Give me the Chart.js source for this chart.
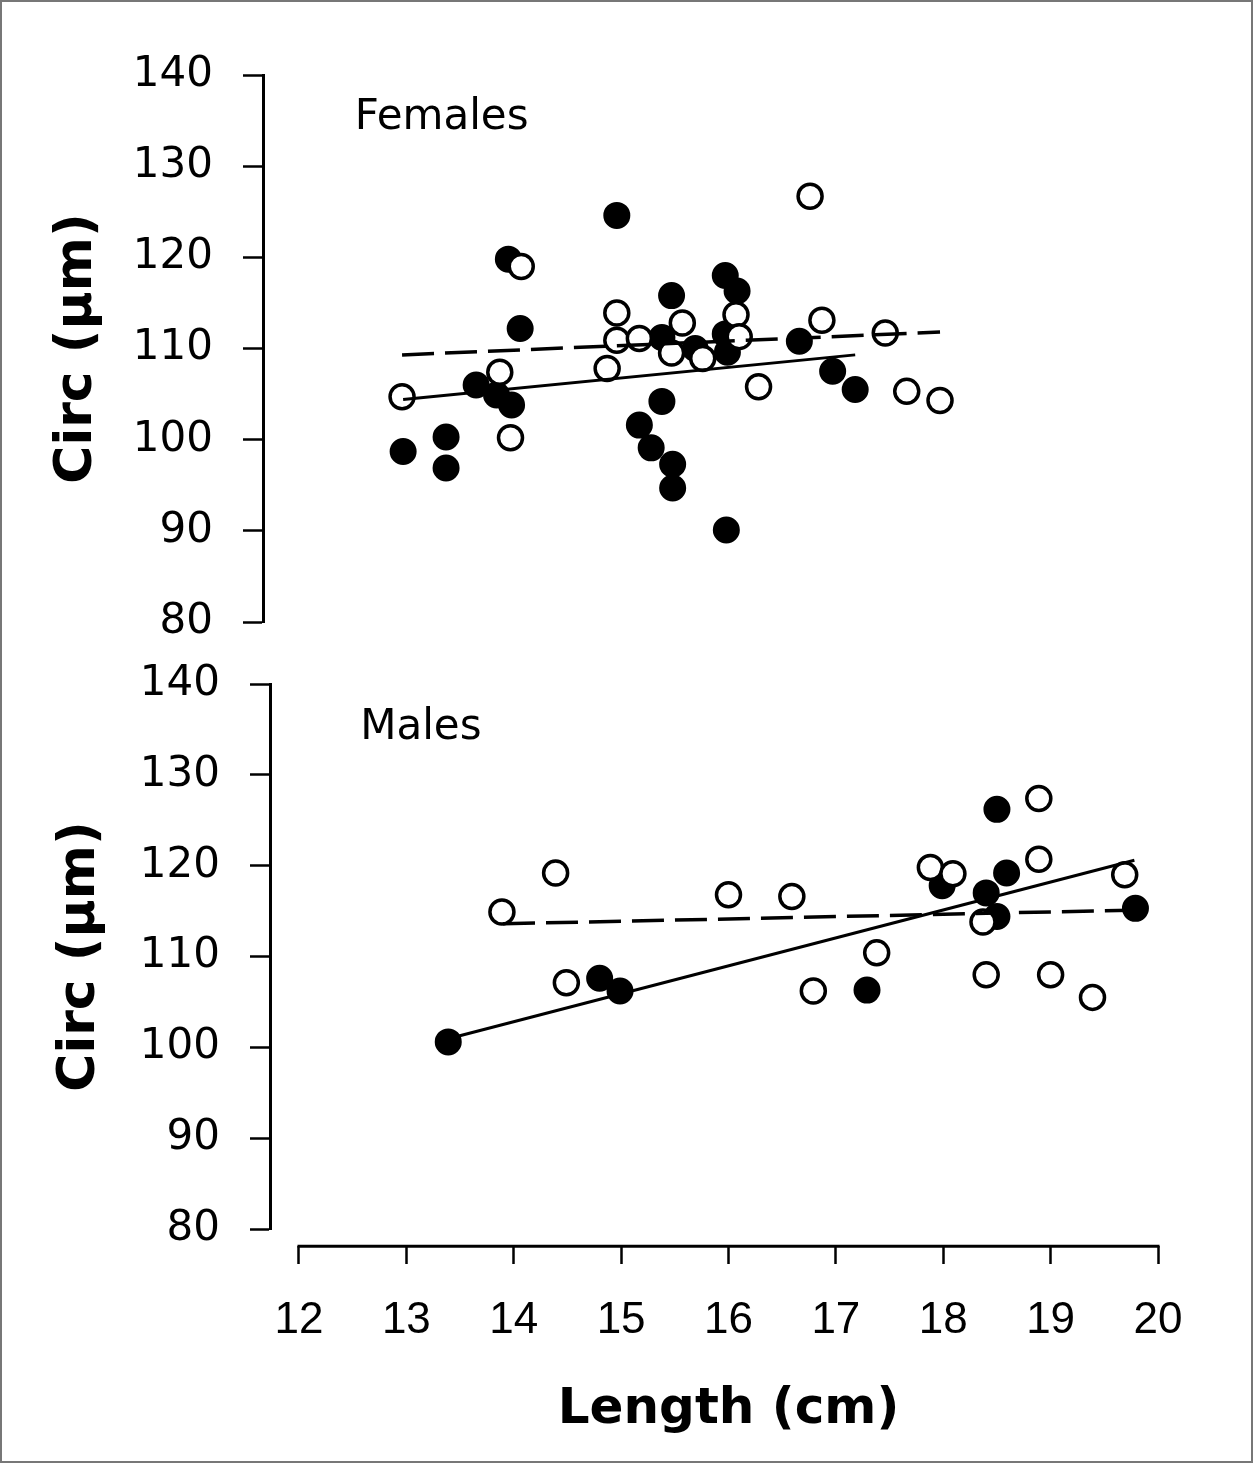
<!DOCTYPE html>
<html>
<head>
<meta charset="utf-8">
<script src="https://cdn.jsdelivr.net/npm/chart.js@4.4.1/dist/chart.umd.min.js"></script>
<style>
  html, body { margin: 0; padding: 0; background: #fff; }
  #page { position: relative; width: 1253px; height: 1463px; box-sizing: border-box; border: 2px solid #777; overflow: hidden; }
  #page canvas { position: absolute; left: -2px; }
  #top { top: -2px; }
  #bottom { top: 648px; }
</style>
</head>
<body>
<div id="page">
  <canvas id="top" width="1253" height="650"></canvas>
  <canvas id="bottom" width="1253" height="813"></canvas>
</div>
<script>
// tick values
var xTicks = [12, 13, 14, 15, 16, 17, 18, 19, 20];
var yTicks = [80, 90, 100, 110, 120, 130, 140];

// females, open circles
var femaleOpenX = [12.96, 13.87, 13.97, 14.07, 14.96, 14.96, 14.87, 15.17, 15.57, 15.47, 15.76, 16.07, 16.1, 16.76, 16.87, 17.46, 16.28, 17.66, 17.97];
var femaleOpenY = [104.7, 107.4, 100.2, 119.0, 113.9, 110.9, 107.8, 111.1, 112.8, 109.5, 108.9, 113.7, 111.3, 126.7, 113.1, 111.7, 105.8, 105.3, 104.3];
// females, filled circles
var femaleFilledX = [12.97, 13.37, 13.37, 13.65, 13.84, 13.98, 13.95, 14.06, 14.96, 15.38, 15.38, 15.17, 15.28, 15.48, 15.48, 15.98, 15.47, 15.69, 15.97, 16.08, 15.97, 15.99, 16.66, 16.97, 17.18];
var femaleFilledY = [98.7, 100.3, 96.9, 106.0, 104.9, 103.8, 119.8, 112.2, 124.6, 111.2, 104.2, 101.6, 99.1, 97.3, 94.7, 90.1, 115.8, 110.0, 118.0, 116.3, 111.6, 109.6, 110.8, 107.5, 105.5];
// females, fitted lines (end points)
var femaleSolidX = [12.97, 17.18];
var femaleSolidY = [104.4, 109.3];
var femaleDashX = [12.96, 17.97];
var femaleDashY = [109.3, 111.8];

// males, open circles
var maleOpenX = [13.89, 14.39, 14.49, 16.0, 16.59, 16.79, 17.38, 17.88, 18.09, 18.37, 18.89, 18.89, 19.69, 18.40, 19.0, 19.39];
var maleOpenY = [114.9, 119.2, 107.1, 116.8, 116.6, 106.2, 110.4, 119.8, 119.1, 113.8, 127.4, 120.7, 119.0, 108.0, 108.0, 105.5];
// males, filled circles
var maleFilledX = [13.39, 14.80, 14.99, 17.29, 17.99, 18.40, 18.50, 18.50, 18.59, 19.79];
var maleFilledY = [100.6, 107.6, 106.2, 106.3, 117.8, 117.0, 114.4, 126.2, 119.2, 115.3];
// males, fitted lines (end points)
var maleSolidX = [13.39, 19.78];
var maleSolidY = [100.95, 120.6];
var maleDashX = [13.9, 19.75];
var maleDashY = [113.6, 115.1];

function pts(xs, ys) {
    return xs.map(function (x, i) { return {x: x, y: ys[i]}; });
}

function datasets(openX, openY, filledX, filledY, solidX, solidY, dashX, dashY) {
    return [
        {data: pts(solidX, solidY), showLine: true, pointRadius: 0, borderColor: '#000', borderWidth: 3, order: 0},
        {data: pts(dashX, dashY), showLine: true, pointRadius: 0, borderColor: '#000', borderWidth: 3.5, borderDash: [32, 11], order: 0},
        {data: pts(openX, openY), pointRadius: 12, borderWidth: 3.5, borderColor: '#000', backgroundColor: '#fff', order: 1},
        {data: pts(filledX, filledY), pointRadius: 12.5, borderWidth: 2, borderColor: '#000', backgroundColor: '#000', order: 2}
    ];
}

// axis titles, panel label and the detached x axis line
var panelText = {
    id: 'panelText',
    afterDraw: function (chart, args, opts) {
        var ctx = chart.ctx, xs = chart.scales.x, ys = chart.scales.y;
        ctx.save();
        ctx.fillStyle = '#000';
        ctx.strokeStyle = '#000';
        if (opts.xAxisAt) {
            var ay = ys.getPixelForValue(opts.xAxisAt);
            ctx.lineWidth = 3;
            ctx.beginPath();
            ctx.moveTo(xs.getPixelForValue(xTicks[0]) - 1.5, ay);
            ctx.lineTo(xs.getPixelForValue(xTicks[xTicks.length - 1]) + 1.5, ay);
            ctx.stroke();
        }
        ctx.textBaseline = 'middle';
        ctx.font = '42px "DejaVu Sans"';
        ctx.textAlign = 'left';
        ctx.fillText(opts.label, xs.getPixelForValue(opts.labelX), ys.getPixelForValue(opts.labelY));
        if (opts.xTitle) {
            ctx.font = 'bold 50px "DejaVu Sans"';
            ctx.textAlign = 'center';
            ctx.fillText(opts.xTitle, xs.getPixelForValue(16), opts.xTitleY);
        }
        ctx.font = 'bold 52px "DejaVu Sans"';
        ctx.textAlign = 'center';
        ctx.translate(opts.yTitleX, (ys.top + ys.bottom) / 2);
        ctx.rotate(-Math.PI / 2);
        ctx.fillText('Circ (\u00b5m)', 0, 0);
        ctx.restore();
    }
};

var yScale = {
    type: 'linear',
    position: 'left',
    min: 80,
    max: 140,
    afterBuildTicks: function (s) { s.ticks = yTicks.map(function (v) { return {value: v}; }); },
    afterFit: function (s) { s.width = 150; s.paddingTop = 0; s.paddingBottom = 0; },
    ticks: {color: '#000', padding: 30, font: {family: 'DejaVu Sans', size: 42}},
    grid: {drawOnChartArea: false, drawTicks: true, tickLength: 20, tickWidth: 2.5, tickColor: '#000'},
    border: {display: true, width: 3, color: '#000'}
};

function makeChart(id, data, scales, padding, text) {
    return new Chart(document.getElementById(id), {
        type: 'scatter',
        data: {datasets: data},
        options: {
            responsive: false,
            animation: false,
            events: [],
            layout: {padding: padding},
            datasets: {scatter: {clip: false}},
            plugins: {legend: {display: false}, tooltip: {enabled: false}, panelText: text},
            scales: scales
        },
        plugins: [panelText]
    });
}

// top panel: y axis at x = 263 px, 12 cm at 299 px
makeChart('top',
    datasets(femaleOpenX, femaleOpenY, femaleFilledX, femaleFilledY, femaleSolidX, femaleSolidY, femaleDashX, femaleDashY),
    {
        x: {type: 'linear', min: 11.665, max: 20, display: false},
        y: yScale
    },
    {left: 113, right: 95, top: 75, bottom: 28},
    {label: 'Females', labelX: 12.52, labelY: 135.3, yTitleX: 77}
);

// bottom panel: y axis at x = 270 px
makeChart('bottom',
    datasets(maleOpenX, maleOpenY, maleFilledX, maleFilledY, maleSolidX, maleSolidY, maleDashX, maleDashY),
    {
        x: {
            type: 'linear',
            min: 11.73,
            max: 20,
            position: {y: 78.1},
            afterBuildTicks: function (s) { s.ticks = xTicks.map(function (v) { return {value: v}; }); },
            afterFit: function (s) { s.paddingLeft = 0; s.paddingRight = 0; },
            ticks: {color: '#000', padding: 30, maxRotation: 0, font: {family: 'Liberation Sans', size: 44}},
            grid: {drawOnChartArea: false, drawTicks: true, tickLength: 18, tickWidth: 2.5, tickColor: '#000'},
            border: {display: false}
        },
        y: yScale
    },
    {left: 120, right: 95, top: 34, bottom: 234},
    {label: 'Males', labelX: 12.57, labelY: 135.2, yTitleX: 80, xTitle: 'Length (cm)', xTitleY: 760, xAxisAt: 78.1}
);
</script>
</body>
</html>
